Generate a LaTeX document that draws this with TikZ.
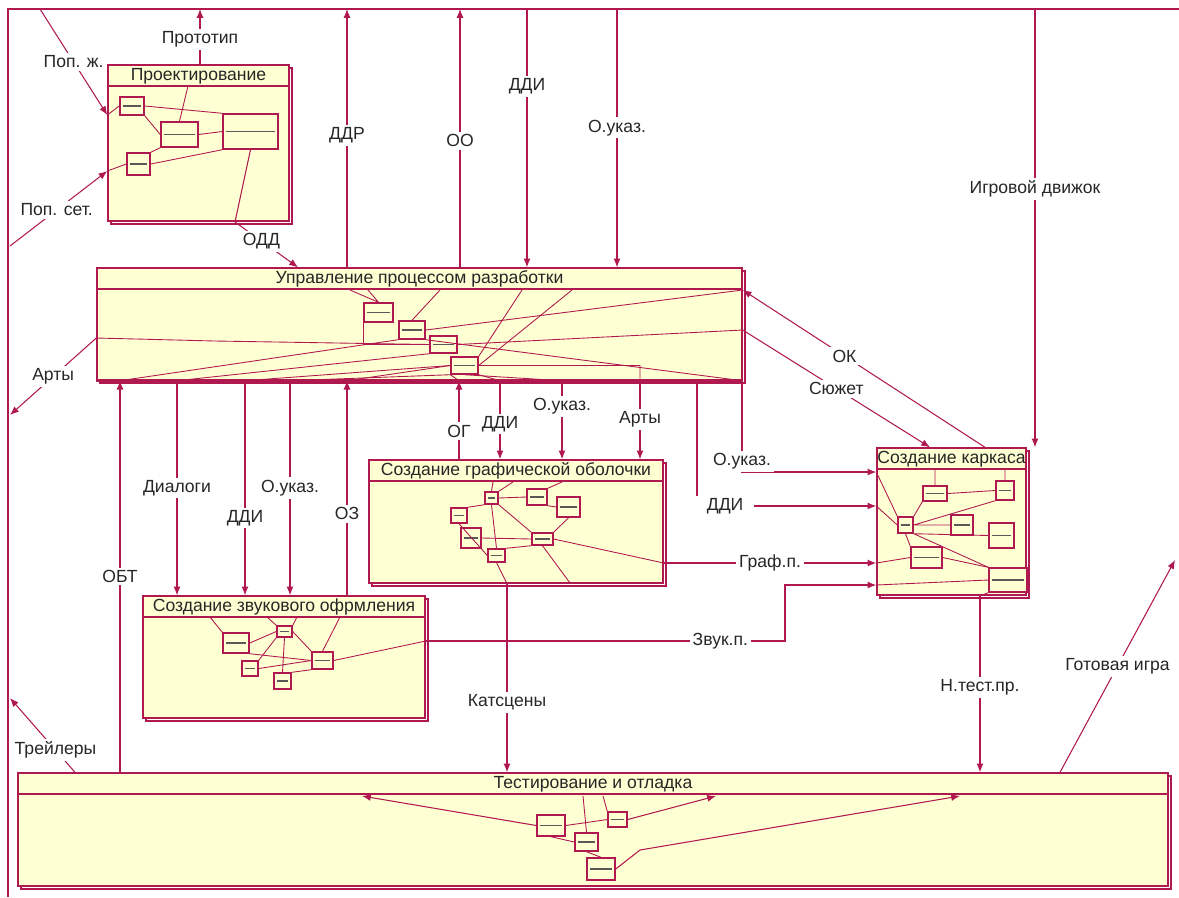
\documentclass[tikz,border=0pt]{standalone}
\usepackage{fontspec}
\setmainfont{Liberation Sans}
\usetikzlibrary{arrows.meta,calc,fit}
\definecolor{idefred}{HTML}{B0194F}
\definecolor{idefbg}{HTML}{FFFFD4}
\newcommand{\lblfont}{\fontsize{10}{12}\selectfont}
\tikzset{
  >={Latex[length=5pt,width=4pt]},
  arr/.style={draw=idefred, line width=0.6pt, ->},
  inl/.style={draw=idefred, line width=0.5pt},
  lbl/.style={fill=white, inner sep=1.5pt, text=black!85},
  boxline/.style={draw=idefred, line width=0.8pt},
  actblock/.style={draw=idefred, fill=idefbg, line width=0.8pt, inner sep=0pt},
  subblock/.style={draw=idefred, fill=idefbg, line width=0.8pt, inner sep=0pt},
}
% activity block: name, x1, y1, x2, y2, title
\newcommand{\actbox}[6]{%
  \draw[boxline] (#2+3,#3+3) rectangle (#4+3,#5+3);
  \node[actblock, fit={(#2,#3) (#4,#5)}] (#1) {};
  \draw[boxline] (#2,#3+21) -- (#4,#3+21);
  \node[inner sep=0pt, text=black!85] (#1-t) at ({(#2+#4)/2},#3+11) {#6};
}
% small block of the decomposition
\newcommand{\subblk}[5]{%
  \node[subblock, fit={(#2,#3) (#4,#5)}] (#1) {};
  \draw[black!65, line width=0.6pt] ([xshift=2pt]#1.west) -- ([xshift=-2pt]#1.east);
}
\begin{document}
\begin{tikzpicture}[x=0.02cm, y=-0.02cm, font=\lblfont]
\useasboundingbox (0,0) rectangle (1179,897);
\draw[boxline] (8,897) -- (8,9) -- (1179,9);

% end points on the frame
\coordinate (tProt) at (200,9);
\coordinate (tPopZ) at (40,9);
\coordinate (lPopS) at (10,246);
\coordinate (tDDR) at (347,9);
\coordinate (tOO) at (460,9);
\coordinate (tDDI) at (527,9);
\coordinate (tOuk) at (617,9);
\coordinate (tEng) at (1035,9);
\coordinate (lArt) at (10,415);
\coordinate (lTrl) at (10,698);
\coordinate (rGame) at (1175,560);
% helper x / y positions
\coordinate (yPopZ) at (0,115);
\coordinate (yPopS) at (0,171);
\coordinate (oddA) at (235,222);
\coordinate (oddB) at (298,0);
\coordinate (yArt) at (0,338);
\coordinate (xOK) at (985,0);
\coordinate (yOK) at (0,290);
\coordinate (xSuj) at (930,0);
\coordinate (ySuj) at (0,330);
\coordinate (xObt) at (120,0);
\coordinate (xDlg) at (177,0);
\coordinate (xDdi2) at (245,0);
\coordinate (xOuk3) at (290,0);
\coordinate (xOZ) at (347,0);
\coordinate (xOG) at (459,0);
\coordinate (xDdi3) at (500,0);
\coordinate (xOuk4) at (562,0);
\coordinate (xArt2) at (640,0);
\coordinate (xDdk) at (697,0);
\coordinate (yDdk) at (0,506);
\coordinate (xOuk5) at (742,0);
\coordinate (yOuk5) at (0,472);
\coordinate (yGp) at (0,563);
\coordinate (spA) at (785,641);
\coordinate (spB) at (785,585);
\coordinate (xCut) at (507,0);
\coordinate (xNt) at (980,0);
\coordinate (xGame) at (1060,0);
\coordinate (xTrl) at (75,0);

% blocks
\actbox{prj}{108}{65}{289}{221}{Проектирование}
\actbox{upr}{97}{268}{742}{380}{Управление процессом разработки}
\actbox{grf}{369}{460}{663}{583}{Создание графической оболочки}
\actbox{snd}{143}{596}{425}{718}{Создание звукового офрмления}
\actbox{krk}{877}{448}{1026}{595}{Создание каркаса}
\actbox{tst}{18}{773}{1168}{886}{Тестирование и отладка}
\draw[idefred, line width=2pt] (upr.south west) -- (upr.south east);

% Проектирование
\subblk{pa}{120}{97}{144}{115}
\subblk{pb}{161}{122}{198}{147}
\subblk{pc}{127}{153}{150}{175}
\subblk{pd}{223}{114}{278}{149}
\draw[inl] (prj.west |- yPopZ) -- (pa.west) (prj.west |- yPopS) -- (pc.west);
\draw[inl] (pa.east) -- (pd.north west) (pa.south east) -- (pb.west);
\draw[inl] (pb.east) -- (pd.west) (pc.north east) -- (pb.south west);
\draw[inl] (pc.east) -- (pd.south west) (188,86) -- (pb.north);

% Управление процессом разработки
\subblk{ua}{364}{303}{393}{322}
\subblk{ub}{399}{321}{425}{339}
\subblk{uc}{430}{336}{457}{353}
\subblk{ud}{451}{357}{478}{374}
\draw[inl] (350,290) -- (ua.north) (368,290) -- (ua.north) (440,290) -- (ub.north);
\draw[inl] (522,290) -- (ud.north east) (572,290) -- (ud.east);
\draw[inl] (ub.east) -- (upr.east |- yOK) (uc.east) -- (upr.east |- ySuj);
\draw[inl] (upr.west |- yArt) -- (215,341) -- (uc.west);
\draw[inl] (uc.south west) -- (upr.south -| xDlg) (ud.west) -- (upr.south -| xDdi2);
\draw[inl] (ud.south west) -- (upr.south -| xOuk3) (upr.south -| xObt) -- (ub.south west);
\draw[inl] (upr.south -| xOZ) -- (ud.west) (upr.south -| xOG) -- (ud.south west);
\draw[inl] (ua.south west) |- (uc.west);
\draw[inl] (ud.south east) -- (upr.south -| xDdi3) (ud.east) -| (upr.south -| xArt2);
\draw[inl] (ud.south) -- (upr.south -| xOuk4) (ub.south east) -- (upr.south -| xOuk5);

% Создание графической оболочки
\subblk{ga}{485}{492}{498}{504}
\subblk{gb}{451}{508}{467}{523}
\subblk{gc}{461}{528}{481}{548}
\subblk{gd}{527}{489}{547}{505}
\subblk{ge}{557}{497}{580}{517}
\subblk{gf}{532}{533}{553}{545}
\subblk{gg}{488}{549}{505}{562}
\draw[inl] (493,482) -- (ga.north) (513,482) -- (ga.north east) (562,482) -- (gd.north east);
\draw[inl] (ga.east) -- (gd.west) (ga.south east) -- (gf.north west) (ga.south west) -- (gb.north east);
\draw[inl] (ga.south) -- (gg.north) (gb.south) -- (gg.west) (gc.east) -- (gf.west);
\draw[inl] (gg.north east) -- (gf.south west) (gd.south east) -- (ge.west) (ge.south) -- (gf.north east);
\draw[inl] (gf.east) -- (grf.east |- yGp) (gf.south) -- (570,583) (gg.south) -- (grf.south -| xCut);

% Создание звукового офрмления
\subblk{sa}{223}{633}{249}{653}
\subblk{sb}{277}{626}{292}{637}
\subblk{sc}{242}{661}{258}{676}
\subblk{sd}{312}{652}{333}{669}
\subblk{se}{274}{673}{291}{689}
\draw[inl] (210,617) -- (sa.north west) (267,617) -- (sb.north west) (297,617) -- (sb.north east) (340,617) -- (sd.north);
\draw[inl] (sa.east) -- (sb.west) (sb.east) -- (sd.north west) (sc.north east) -- (sb.south west);
\draw[inl] (sc.east) -- (sd.west) (se.north) -- (sb.south) (se.north east) -- (sd.south west);
\draw[inl] (sa.south east) -- (sd.west) (sd.east) -- (snd.east |- spA);

% Создание каркаса
\subblk{ka}{923}{486}{947}{501}
\subblk{kb}{996}{481}{1014}{500}
\subblk{kc}{898}{517}{913}{533}
\subblk{kd}{951}{515}{973}{535}
\subblk{ke}{989}{523}{1014}{548}
\subblk{kf}{911}{547}{942}{568}
\subblk{kg}{989}{568}{1027}{592}
\draw[inl] (krk.west |- yOuk5) -- (kc.north west) (krk.west |- yDdk) -- (kc.west);
\draw[inl] (krk.west |- yGp) -- (kf.west) (krk.west |- spB) -- (kg.west);
\draw[inl] (kc.north east) -- (ka.south west) (kc.east) -- (kb.south west) (kc.east) -- (kd.west);
\draw[inl] (kc.south east) -- (ke.west) (kc.south) -- (kf.north west) (kc.south east) -- (kg.north west);
\draw[inl] (ka.east) -- (kb.west) (kf.east) -- (kg.north west) (935,470) -- (ka.north) (1005,470) -- (kb.north);
\draw[inl] (kg.south west) -- (krk.south -| xNt);

% Тестирование и отладка
\subblk{ta}{537}{815}{565}{836}
\subblk{tb}{608}{812}{627}{827}
\subblk{tc}{575}{833}{598}{851}
\subblk{td}{587}{858}{615}{880}
\draw[arr] (ta.west) -- (362,796);
\draw[arr] (tb.east) -- (716,796);
\draw[arr] (td.east) -- (640,850) -- (960,796);
\draw[inl] (ta.south) -- (tc.west) (tc.south) -- (td.north) (ta.east) -- (tb.west);
\draw[inl] (583,796) -- (tc.north) (603,796) -- (tb.north west);

% connectors with the frame
\draw[arr] (prj.north -| tProt) -- (tProt) node[lbl,pos=.45]{Прототип};
\draw[arr] (tPopZ) -- (prj.west |- yPopZ) node[lbl,pos=.5]{Поп. ж.};
\draw[arr] (lPopS) -- (prj.west |- yPopS) node[lbl,pos=.48]{Поп. сет.};
\draw[arr] (pd.south) -- (oddA) -- (upr.north -| oddB) node[lbl,pos=.42]{ОДД};
\draw[arr] (upr.north -| tDDR) -- (tDDR) node[lbl,pos=.51]{ДДР};
\draw[arr] (upr.north -| tOO) -- (tOO) node[lbl,pos=.49]{ОО};
\draw[arr] (tDDI) -- (upr.north -| tDDI) node[lbl,pos=.3]{ДДИ};
\draw[arr] (tOuk) -- (upr.north -| tOuk) node[lbl,pos=.46]{О.указ.};
\draw[arr] (tEng) -- (krk.north -| tEng) node[lbl,pos=.41]{Игровой движок};
\draw[arr] (upr.west |- yArt) -- (lArt) node[lbl,pos=.5]{Арты};
\draw[arr] (krk.north -| xOK) -- (upr.east |- yOK) node[lbl,pos=.58]{ОК};
\draw[arr] (upr.east |- ySuj) -- (krk.north -| xSuj) node[lbl,pos=.5]{Сюжет};

% connectors between blocks
\draw[arr] (tst.north -| xObt) -- (upr.south -| xObt) node[lbl,pos=.5]{ОБТ};
\draw[arr] (upr.south -| xDlg) -- (snd.north -| xDlg) node[lbl,pos=.5]{Диалоги};
\draw[arr] (upr.south -| xDdi2) -- (snd.north -| xDdi2) node[lbl,pos=.64]{ДДИ};
\draw[arr] (upr.south -| xOuk3) -- (snd.north -| xOuk3) node[lbl,pos=.5]{О.указ.};
\draw[arr] (snd.north -| xOZ) -- (upr.south -| xOZ) node[lbl,pos=.38]{ОЗ};
\draw[arr] (grf.north -| xOG) -- (upr.south -| xOG) node[lbl,pos=.36]{ОГ};
\draw[arr] (upr.south -| xDdi3) -- (grf.north -| xDdi3) node[lbl,pos=.55]{ДДИ};
\draw[arr] (upr.south -| xOuk4) -- (grf.north -| xOuk4) node[lbl,pos=.33]{О.указ.};
\draw[arr] (upr.south -| xArt2) -- (grf.north -| xArt2) node[lbl,pos=.49]{Арты};
\draw[arr] (upr.south -| xOuk5) |- (krk.west |- yOuk5) node[lbl,pos=.5,yshift=6pt]{О.указ.};
\draw[arr] (upr.south -| xDdk) |- (krk.west |- yDdk) node[lbl,pos=.5,xshift=16pt,inner xsep=6pt]{ДДИ};
\draw[arr] (grf.east |- yGp) -- (krk.west |- yGp) node[lbl,pos=.5]{Граф.п.};
\draw[arr] (snd.east |- spA) -- node[lbl,pos=.82]{Звук.п.} (spA) -- (spB) -- (krk.west |- spB);
\draw[arr] (grf.south -| xCut) -- (tst.north -| xCut) node[lbl,pos=.63]{Катсцены};
\draw[arr] (krk.south -| xNt) -- (tst.north -| xNt) node[lbl,pos=.52]{Н.тест.пр.};
\draw[arr] (tst.north -| xGame) -- (rGame) node[lbl,pos=.5]{Готовая игра};
\draw[arr] (tst.north -| xTrl) -- (lTrl) node[lbl,pos=.3]{Трейлеры};
\end{tikzpicture}
\end{document}
